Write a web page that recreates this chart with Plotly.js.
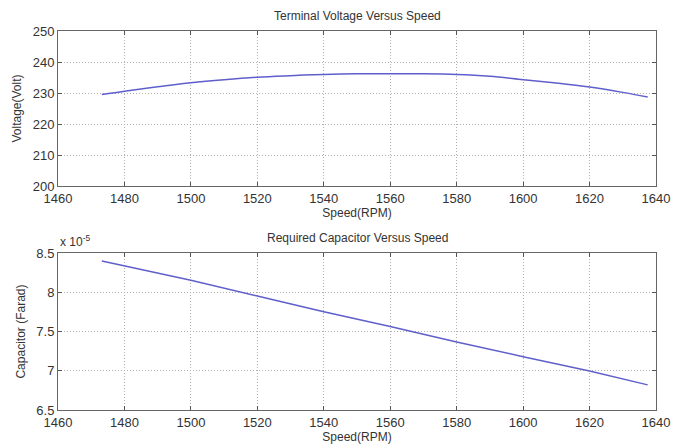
<!DOCTYPE html>
<html>
<head>
<meta charset="utf-8">
<script src="https://cdn.plot.ly/plotly-3.0.1.min.js"></script>
<style>html,body{margin:0;padding:0;background:#fff;}#chart{width:673px;height:448px;}</style>
</head>
<body>
<div id="chart"></div>
<script>
const speed = [1473.2, 1480, 1490, 1500, 1510, 1520, 1530, 1540, 1550, 1560, 1570, 1580, 1590, 1600, 1610, 1620, 1630, 1637.5];
const voltage = [229.5, 230.6, 232.0, 233.3, 234.3, 235.1, 235.6, 236.0, 236.2, 236.2, 236.2, 236.0, 235.4, 234.3, 233.2, 231.9, 230.2, 228.7];
const capSpeed = [1473.2, 1500, 1520, 1540, 1560, 1580, 1600, 1620, 1637.5];
const capacitor = [8.40e-5, 8.154e-5, 7.953e-5, 7.752e-5, 7.564e-5, 7.367e-5, 7.18e-5, 6.996e-5, 6.82e-5];
const xTicks = [1460, 1480, 1500, 1520, 1540, 1560, 1580, 1600, 1620, 1640];
const vTicks = [200, 210, 220, 230, 240, 250];
const cTicks = [6.5e-5, 7e-5, 7.5e-5, 8e-5, 8.5e-5];
const cTickText = ["6.5", "7", "7.5", "8", "8.5"];

const lineColor = '#5f5fcc';
const font = {family: 'Liberation Sans, Arial, sans-serif', size: 12, color: '#333'};

const traces = [
  {x: speed, y: voltage, type: 'scatter', mode: 'lines', line: {color: lineColor, width: 1.5, shape: 'spline'}, xaxis: 'x', yaxis: 'y'},
  {x: capSpeed, y: capacitor, type: 'scatter', mode: 'lines', line: {color: lineColor, width: 1.5}, xaxis: 'x2', yaxis: 'y2'}
];

function xax(anchor) {
  return {
    range: [1460, 1640], tickvals: xTicks, ticks: 'inside', ticklen: 4, tickcolor: '#555',
    showline: true, linecolor: '#666', linewidth: 1, mirror: 'ticks',
    showgrid: true, gridcolor: '#b0b0b0', griddash: '1px,2px', gridwidth: 1, zeroline: false,
    tickfont: {family: font.family, size: 13, color: '#333'}, anchor: anchor,
    title: {text: 'Speed(RPM)', font: {family: font.family, size: 12, color: '#333'}, standoff: 1},
    automargin: false
  };
}
function yax(domain, anchor, range, tv, tt, title) {
  const a = {
    domain: domain, range: range, tickvals: tv, ticks: 'inside', ticklen: 4, tickcolor: '#555',
    showline: true, linecolor: '#666', linewidth: 1, mirror: 'ticks',
    showgrid: true, gridcolor: '#b0b0b0', griddash: '1px,2px', gridwidth: 1, zeroline: false,
    tickfont: {family: font.family, size: 13, color: '#333'}, anchor: anchor,
    title: {text: title, font: {family: font.family, size: 12, color: '#333'}, standoff: 8},
    automargin: false
  };
  if (tt) a.ticktext = tt;
  return a;
}

const layout = {
  width: 673, height: 448,
  margin: {l: 58, r: 17, t: 31, b: 38},
  paper_bgcolor: '#fff', plot_bgcolor: '#fff',
  showlegend: false,
  font: font,
  xaxis: xax('y'),
  yaxis: yax([0.591, 1], 'x', [200, 250], vTicks, null, 'Voltage(Volt)'),
  xaxis2: xax('y2'),
  yaxis2: yax([0, 0.414], 'x2', [6.5e-5, 8.5e-5], cTicks, cTickText, 'Capacitor (Farad)'),
  annotations: [
    {text: 'Terminal Voltage Versus Speed', xref: 'paper', yref: 'paper', x: 0.5, y: 1, yshift: 6, xanchor: 'center', yanchor: 'bottom', showarrow: false, font: {family: font.family, size: 12, color: '#333'}},
    {text: 'Required Capacitor Versus Speed', xref: 'paper', yref: 'paper', x: 0.5, y: 0.414, yshift: 6, xanchor: 'center', yanchor: 'bottom', showarrow: false, font: {family: font.family, size: 12, color: '#333'}},
    {text: 'x 10<sup>-5</sup>', xref: 'paper', yref: 'paper', x: 0, y: 0.414, yshift: 2, xanchor: 'left', yanchor: 'bottom', showarrow: false, font: {family: font.family, size: 12, color: '#333'}}
  ]
};

Plotly.newPlot('chart', traces, layout, {displayModeBar: false, staticPlot: true});
</script>
</body>
</html>
